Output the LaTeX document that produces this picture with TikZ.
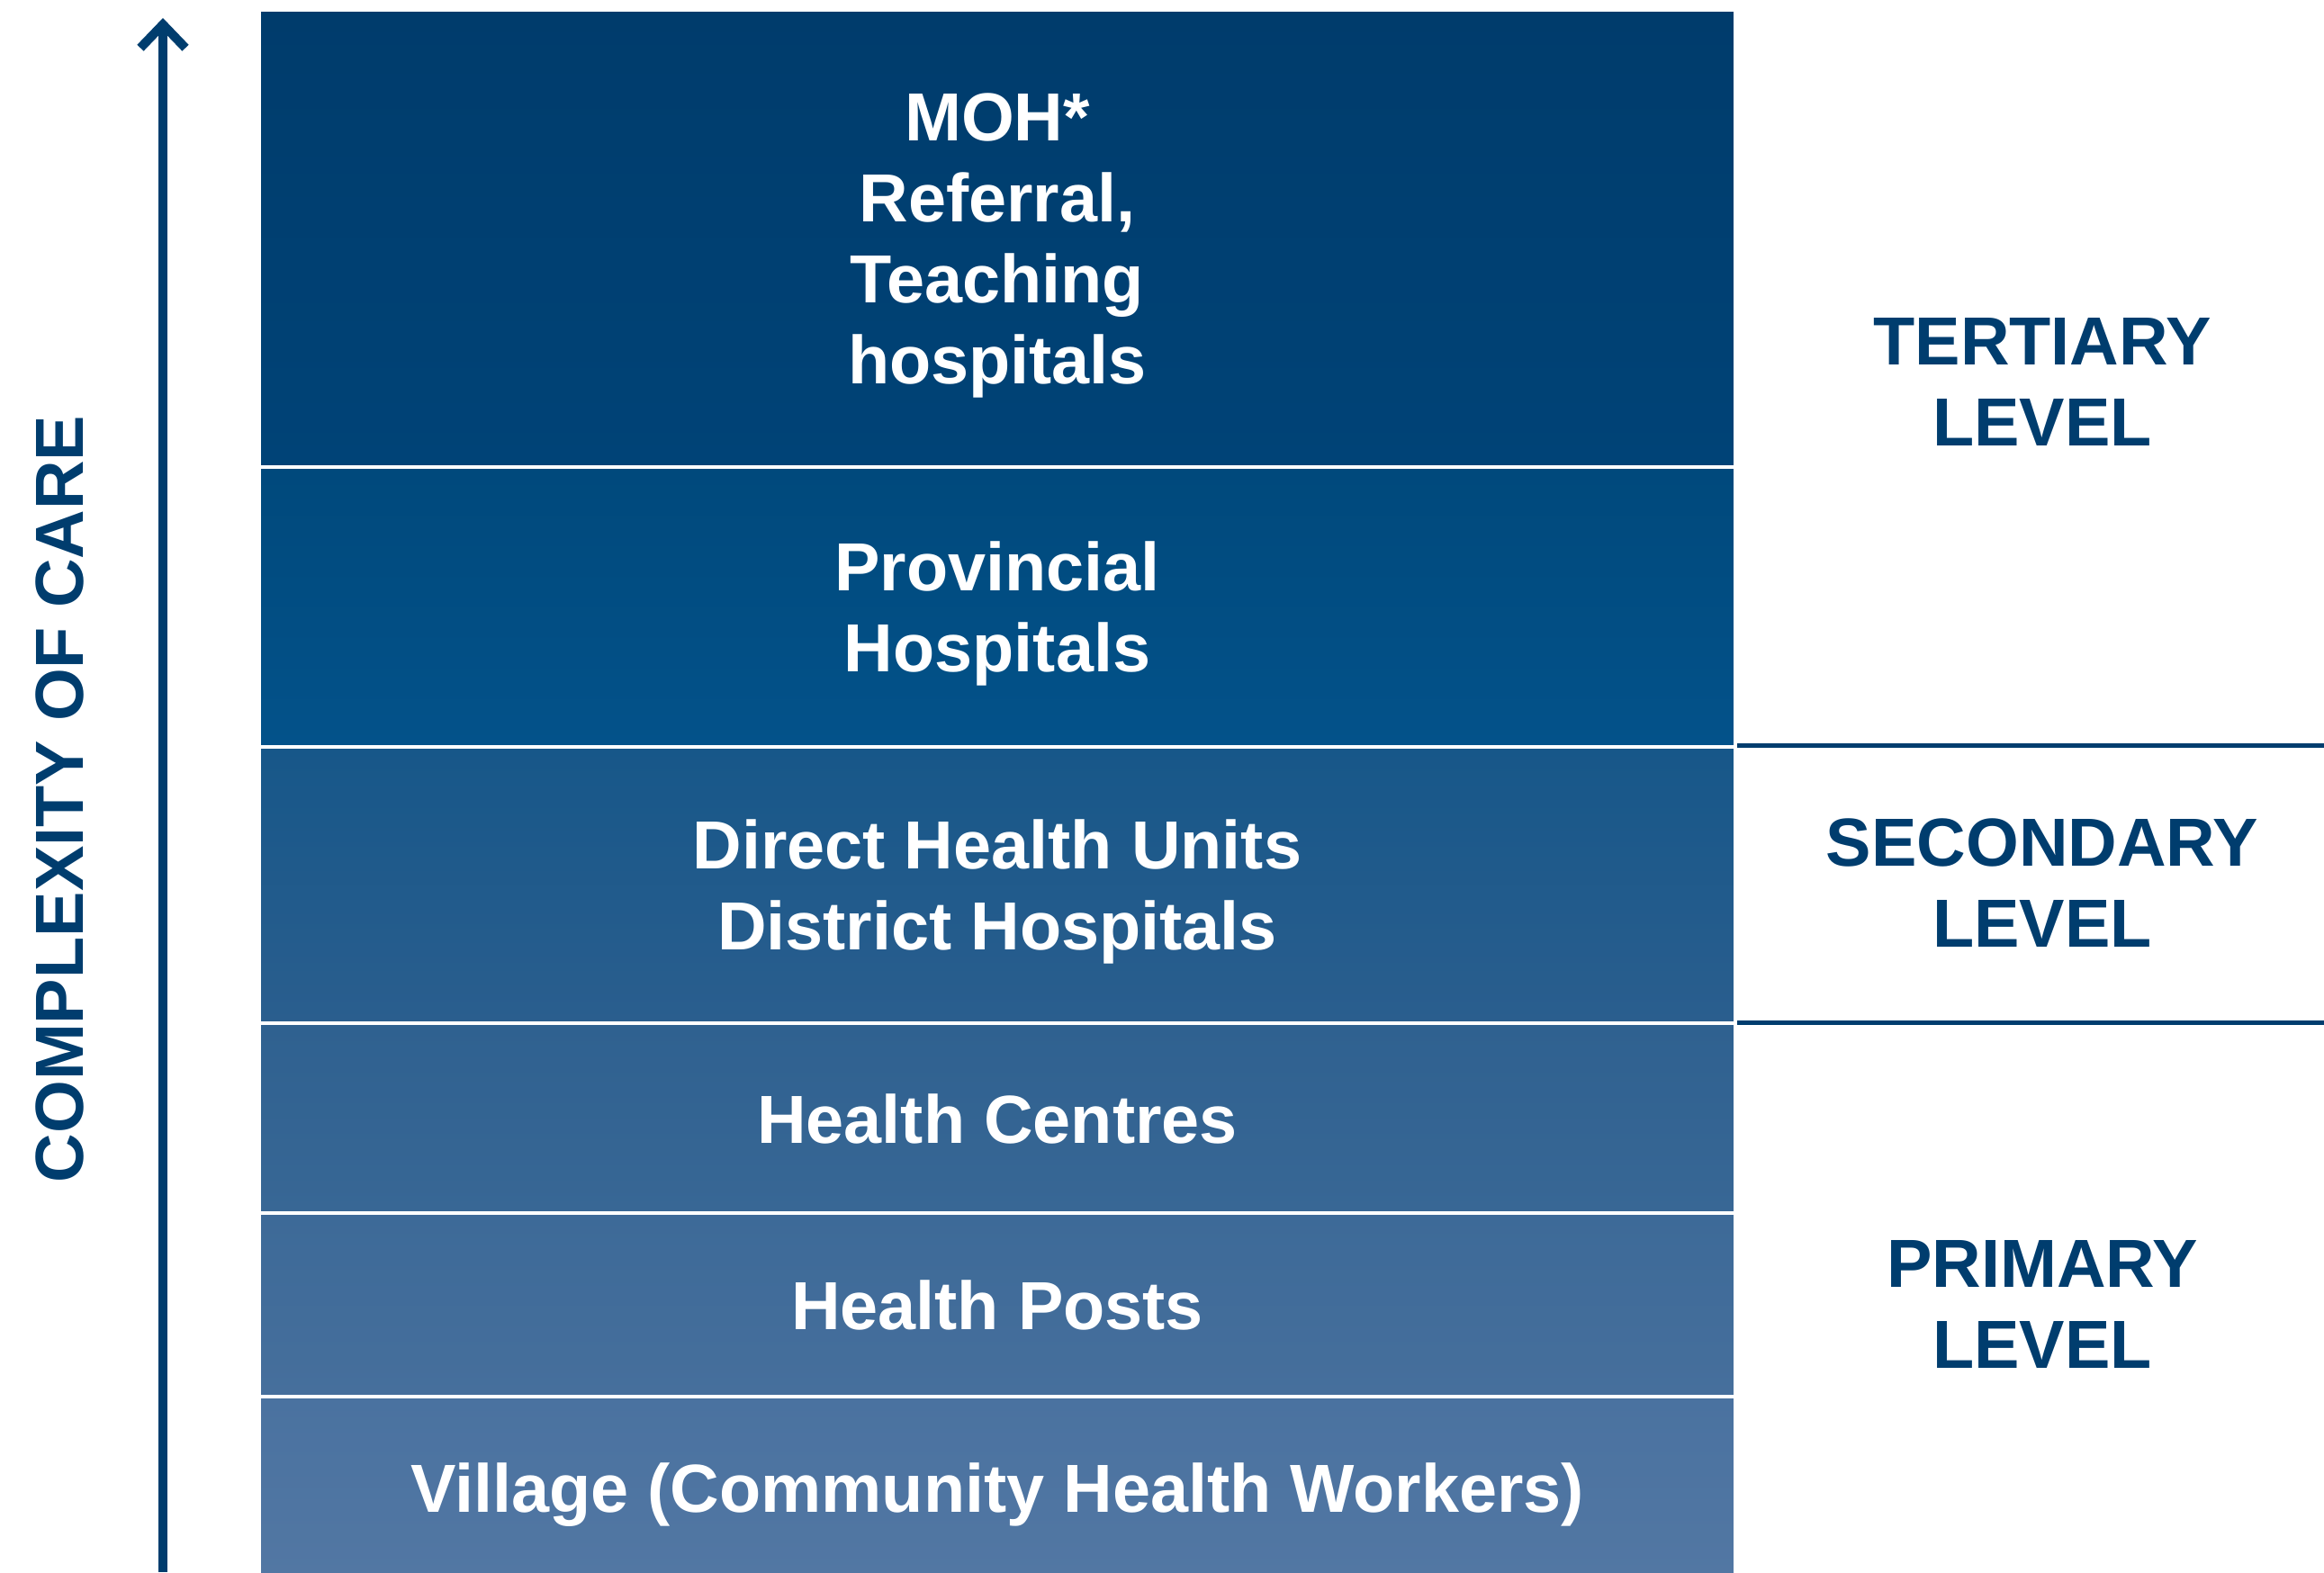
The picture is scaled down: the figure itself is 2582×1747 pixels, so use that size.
\documentclass[tikz,border=0pt]{standalone}
\usepackage{fontspec}
\setmainfont{Liberation Sans}
\usepackage{xcolor}
\usetikzlibrary{arrows.meta, positioning}

\definecolor{navy}{HTML}{003D6E}
% shading of the six bands, dark at the top, light at the bottom
\definecolor{mohtop}{HTML}{003C6C}
\definecolor{mohbot}{HTML}{004377}
\definecolor{provtop}{HTML}{00497C}
\definecolor{provbot}{HTML}{03528A}
\definecolor{dhutop}{HTML}{175789}
\definecolor{dhubot}{HTML}{2A5E8E}
\definecolor{hctop}{HTML}{2F6190}
\definecolor{hcbot}{HTML}{386795}
\definecolor{hptop}{HTML}{3D6A98}
\definecolor{hpbot}{HTML}{466F9C}
\definecolor{viltop}{HTML}{4A72A0}
\definecolor{vilbot}{HTML}{5277A3}

\begin{document}
\begin{tikzpicture}[
    x=0.01cm, y=-0.01cm,
    node distance=0.05cm,
    band/.style={minimum width=16.35cm, inner sep=0pt, outer sep=0pt, text depth=0pt,
                 align=center, text=white,
                 font=\bfseries\fontsize{21.5}{25.6}\selectfont},
    level/.style={align=center, text=navy, inner sep=0pt,
                  font=\bfseries\fontsize{21.5}{25.6}\selectfont},
    rule/.style={navy, line width=0.05cm},
    axisarrow/.style={-{Straight Barb[length=0.26cm, width=0.5cm]}, navy, line width=0.1cm},
]
\useasboundingbox (0,0) rectangle (2582,1747);

% Care facilities, from top to bottom
\node[band, anchor=north west, minimum height=5.03cm, top color=mohtop, bottom color=mohbot]
    (moh) at (290,13) {MOH*\\Referral,\\Teaching\\hospitals};
\node[band, below=of moh, minimum height=3.06cm, top color=provtop, bottom color=provbot]
    (prov) {Provincial\\Hospitals};
\node[band, below=of prov, minimum height=3.02cm, top color=dhutop, bottom color=dhubot]
    (dhu) {Direct Health Units\\District Hospitals};
\node[band, below=of dhu, minimum height=2.06cm, top color=hctop, bottom color=hcbot]
    (hc) {Health Centres};
\node[band, below=of hc, minimum height=1.99cm, top color=hptop, bottom color=hpbot]
    (hp) {Health Posts};
\node[band, below=of hp, minimum height=1.96cm, top color=viltop, bottom color=vilbot]
    (vil) {Village (Community Health Workers)};

% Levels of care
\node[level] (tert) at (2269,424) {TERTIARY\\LEVEL};
\node[level] (sec) at (2269,981) {SECONDARY\\LEVEL};
\node[level] (prim) at (2269,1449) {PRIMARY\\LEVEL};

\coordinate (secA) at (1930,828);
\coordinate (secB) at (2582,828);
\coordinate (primA) at (1930,1136);
\coordinate (primB) at (2582,1136);
\draw[rule] (secA) -- (secB);
\draw[rule] (primA) -- (primB);

% Complexity axis
\coordinate (axisBase) at (181,1747);
\coordinate (axisTip) at (181,20);
\draw[axisarrow] (axisBase) -- (axisTip);
\node[level, rotate=90] (axislabel) at (66,888) {COMPLEXITY OF CARE};
\end{tikzpicture}
\end{document}
